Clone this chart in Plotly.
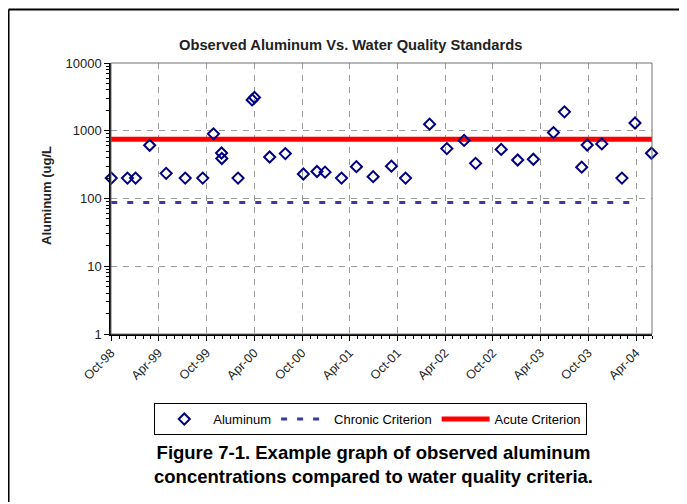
import plotly.graph_objects as go

# ---- data ----
sample_dates = [
    "1998-10-02", "1998-12-03", "1999-01-03", "1999-02-26", "1999-04-30",
    "1999-07-12", "1999-09-17", "1999-10-28", "1999-11-28", "1999-11-29",
    "2000-01-30", "2000-03-24", "2000-04-02", "2000-05-30", "2000-07-29",
    "2000-10-06", "2000-11-27", "2000-12-28", "2001-03-01", "2001-04-27",
    "2001-06-30", "2001-09-08", "2001-11-01", "2002-02-01", "2002-04-08",
    "2002-06-13", "2002-07-27", "2002-11-02", "2003-01-04", "2003-03-05",
    "2003-05-21", "2003-07-02", "2003-09-06", "2003-09-27", "2003-11-22",
    "2004-02-07", "2004-03-28", "2004-05-30",
]
aluminum = [
    200, 200, 200, 610, 235,
    200, 200, 900, 470, 390,
    200, 2850, 3100, 410, 460,
    230, 250, 245, 200, 295,
    210, 300, 200, 1250, 545,
    720, 330, 530, 370, 380,
    940, 1900, 290, 615, 640,
    200, 1300, 465,
]
chronic_dates = sample_dates[:-1]
chronic_value = 87
acute_dates = ["1998-10-01", "2004-06-01"]
acute_value = 750
axis_range = ["1998-10-01", "2004-06-01"]
y_major = [1, 10, 100, 1000, 10000]
y_labels = ["1", "10", "100", "1000", "10000"]
y_minor = [m * d for d in [1, 10, 100, 1000] for m in range(2, 10)]
axis_title = "Aluminum (ug/L"
chart_title = "Observed Aluminum Vs. Water Quality Standards"
caption = ("Figure 7-1. Example graph of observed aluminum<br>"
           "concentrations compared to water quality criteria.")

FONT = "Arial, Liberation Sans, sans-serif"

fig = go.Figure()
fig.add_trace(go.Scatter(
    x=acute_dates, y=[acute_value] * len(acute_dates), mode="lines",
    name="Acute Criterion", line=dict(color="#ff0000", width=5),
    legendrank=3, cliponaxis=False))
fig.add_trace(go.Scatter(
    x=chronic_dates, y=[chronic_value] * len(chronic_dates), mode="lines",
    name="Chronic Criterion", line=dict(color="#3b3ba3", width=3, dash="6px,10px"),
    legendrank=2))
fig.add_trace(go.Scatter(
    x=sample_dates, y=aluminum, mode="markers", name="Aluminum",
    marker=dict(symbol="diamond-open", size=8.5, color="#000080",
                line=dict(width=2, color="#000080")),
    legendrank=1, cliponaxis=False))

fig.update_layout(
    width=679, height=496,
    margin=dict(l=103.4, r=35, t=54.7, b=169.5),
    paper_bgcolor="white", plot_bgcolor="white",
    font=dict(family=FONT, size=12, color="black"),
    showlegend=True,
    legend=dict(
        orientation="h", x=0.08, y=-0.255, xanchor="left", yanchor="top",
        bordercolor="black", borderwidth=1, font=dict(size=13, family=FONT),
        itemwidth=48, tracegroupgap=0, bgcolor="white",
    ),
    xaxis=dict(
        type="date", range=axis_range,
        tickformat="%b-%y", dtick="M6", tick0="1998-10-01",
        tickangle=-45, ticks="outside", ticklen=5, tickcolor="black",
        showline=True, linecolor="black", linewidth=1.5,
        showgrid=True, gridcolor="#999999", griddash="6px,6px", gridwidth=1,
        minor=dict(dtick="M1", ticks="outside", ticklen=3, tickcolor="black",
                   showgrid=False),
        tickfont=dict(size=12.5, color="#222222"),
        zeroline=False,
    ),
    yaxis=dict(
        type="log", range=[0, 4],
        tickmode="array", tickvals=y_major, ticktext=y_labels,
        ticks="outside", ticklen=5, tickcolor="black",
        showline=True, linecolor="black", linewidth=1.5,
        showgrid=True, gridcolor="#999999", griddash="6px,6px", gridwidth=1,
        minor=dict(tickmode="array", tickvals=y_minor, ticks="outside",
                   ticklen=3, tickcolor="black", showgrid=False),
        tickfont=dict(size=13, color="#222222"),
        zeroline=False,
    ),
    shapes=[
        dict(type="rect", xref="paper", yref="paper", x0=0, x1=1, y0=0, y1=1,
             line=dict(color="#707070", width=1)),
        dict(type="line", xref="paper", yref="paper", x0=-0.1894, x1=1.2,
             y0=1.1976, y1=1.1976, line=dict(color="black", width=2)),
        dict(type="line", xref="paper", yref="paper", x0=-0.1894, x1=-0.1894,
             y0=1.1976, y1=-0.62, line=dict(color="black", width=2)),
    ],
    annotations=[
        dict(text="<b>" + chart_title + "</b>", xref="paper", yref="paper",
             x=0.443, y=1.066, xanchor="center", yanchor="middle",
             showarrow=False, font=dict(size=14.7, family=FONT, color="#222222")),
        dict(text="<b>" + axis_title + "</b>", xref="paper", yref="paper",
             x=-0.118, y=0.51, xanchor="center", yanchor="middle", textangle=-90,
             showarrow=False, font=dict(size=13, family=FONT, color="#222222")),
        dict(text="<b>" + caption + "</b>", xref="paper", yref="paper",
             x=0.485, y=-0.48, xanchor="center", yanchor="middle",
             showarrow=False, font=dict(size=18.5, family=FONT, color="black")),
    ],
)

fig.write_html("out.html")
